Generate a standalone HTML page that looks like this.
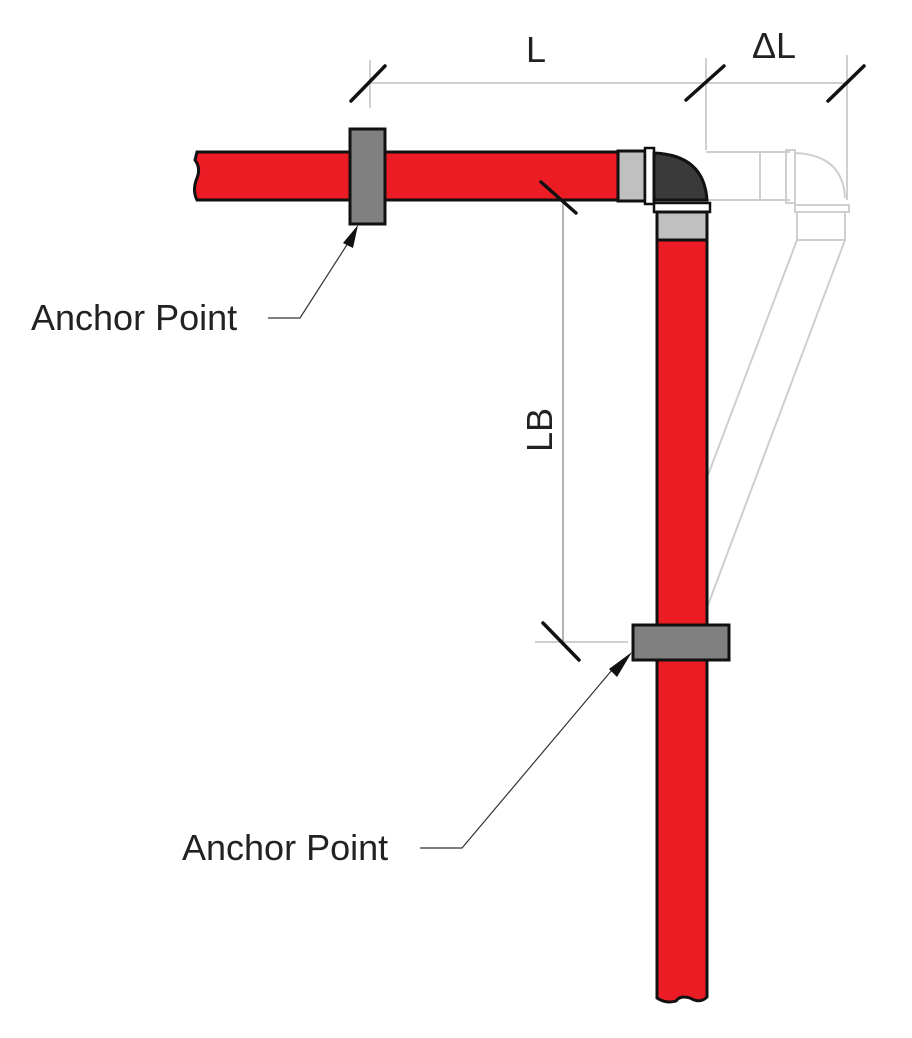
<!DOCTYPE html>
<html><head><style>html,body{margin:0;padding:0;background:#fff}svg{display:block}</style></head>
<body>
<svg width="912" height="1038" viewBox="0 0 912 1038" xmlns="http://www.w3.org/2000/svg" font-family="Liberation Sans, Arial, sans-serif">
<!-- ghost -->
<g fill="none" stroke="#cfcfcf" stroke-width="2">
<line x1="706" y1="152" x2="790" y2="152"/>
<line x1="706" y1="200" x2="790" y2="200"/>
<line x1="760" y1="152" x2="760" y2="200"/>
<rect x="786" y="150" width="9" height="53"/>
<path d="M795 153 Q843 155 845 198"/>
<rect x="795" y="205" width="54" height="7"/>
<rect x="797" y="212" width="48" height="28"/>
<line x1="797" y1="240" x2="708" y2="475"/>
<line x1="845" y1="240" x2="708" y2="605"/>
<line x1="706" y1="58" x2="706" y2="150"/>
<line x1="847" y1="55" x2="847" y2="200"/>
<line x1="370" y1="60" x2="370" y2="108"/>
<line x1="370" y1="83" x2="847" y2="83"/>
<line x1="535" y1="642" x2="628" y2="642"/>
</g>
<line x1="563" y1="200" x2="563" y2="642" stroke="#999" stroke-width="1.5"/>
<!-- horizontal pipe -->
<path d="M197 152 L618 152 L618 200 L197 200 Q192 190 197 178 Q201 168 195 160 Z" fill="#ec1c24" stroke="#111" stroke-width="3"/>
<rect x="618" y="151" width="27" height="50" fill="#c0c0c0" stroke="#111" stroke-width="3"/>
<rect x="645" y="148" width="9" height="56" fill="#fff" stroke="#111" stroke-width="2.5"/>
<path d="M654 153 Q704 155 707 200 L654 200 Z" fill="#3a3a3a" stroke="#111" stroke-width="3"/>
<rect x="654" y="203" width="56" height="9" fill="#fff" stroke="#111" stroke-width="2.5"/>
<rect x="657" y="212" width="50" height="28" fill="#c0c0c0" stroke="#111" stroke-width="3"/>
<!-- vertical pipe -->
<path d="M657 240 L707 240 L707 997 Q700 1004 690 998 Q680 995 676 1001 Q666 1004 657 998 Z" fill="#ec1c24" stroke="#111" stroke-width="3"/>
<!-- ticks -->
<g stroke="#111" stroke-width="3.5" stroke-linecap="round">
<line x1="351" y1="101" x2="385" y2="66"/>
<line x1="686" y1="100" x2="724" y2="66"/>
<line x1="828" y1="101" x2="864" y2="66"/>
<line x1="541" y1="182" x2="576" y2="213"/>
<line x1="543" y1="623" x2="579" y2="660"/>
</g>
<!-- clamps -->
<rect x="350" y="129" width="35" height="95" fill="#808080" stroke="#111" stroke-width="3"/>
<rect x="633" y="625" width="96" height="35" fill="#808080" stroke="#111" stroke-width="3"/>
<!-- leaders -->
<g stroke="#333" stroke-width="1.2" fill="none">
<polyline points="350,240 300,318 268,318"/>
<polyline points="612,670 462,848 420,848"/>
</g>
<polygon points="358,225 343,243 353,248" fill="#111"/>
<polygon points="632,652 609,669 617,677" fill="#111"/>
<!-- text -->
<g fill="#222" font-size="36">
<text x="31" y="330">Anchor Point</text>
<text x="182" y="860">Anchor Point</text>
<text x="526" y="62">L</text>
<text x="752" y="58">ΔL</text>
<text transform="translate(552,452) rotate(-90)">LB</text>
</g>
</svg>
</body></html>
